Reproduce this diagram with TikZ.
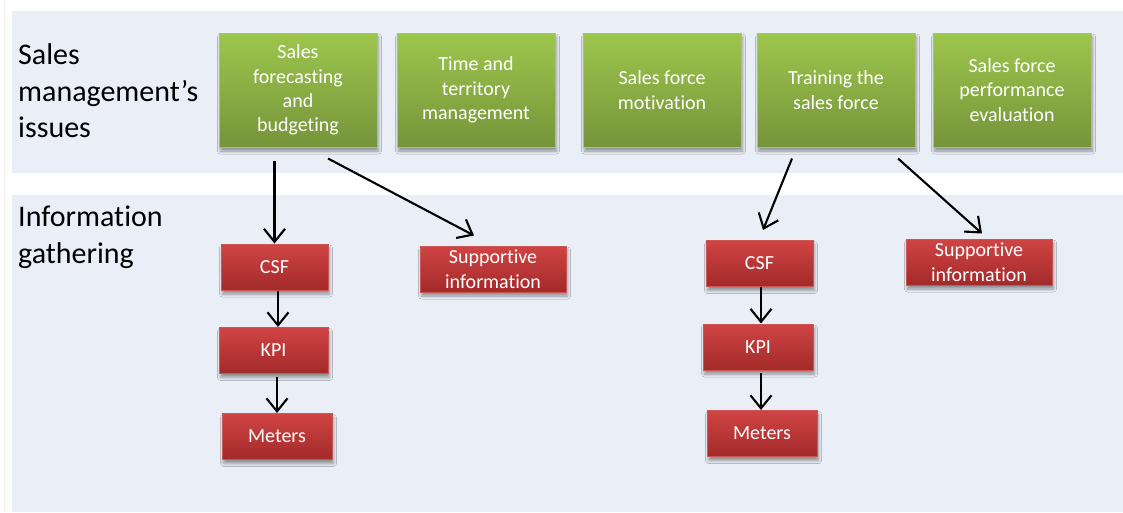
\documentclass[tikz,border=0pt]{standalone}
\usepackage{fontspec}
\setmainfont{Carlito}[Ligatures={NoCommon}]
\usetikzlibrary{arrows.meta,shadows.blur}

\definecolor{bandfill}{HTML}{EAEFF7}
\definecolor{greentop}{HTML}{9DC64D}
\definecolor{greenbot}{HTML}{76943A}
\definecolor{greenedge}{HTML}{A6C766}
\definecolor{redtop}{HTML}{D04444}
\definecolor{redbot}{HTML}{A32A2A}
\definecolor{rededge}{HTML}{CB5753}
\definecolor{edgeline}{HTML}{EEEEEE}

\tikzset{
  band/.style={fill=bandfill, draw=none},
  issuebox/.style={draw=greenedge, line width=1pt, top color=greentop, bottom color=greenbot,
    minimum width=158pt, minimum height=114pt, inner sep=2pt, align=center, text=white,
    font=\fontsize{20}{24.4}\selectfont,
    blur shadow={shadow xshift=1.5pt, shadow yshift=-4pt, shadow blur radius=3pt,
      shadow blur steps=6, shadow opacity=40}},
  infobox/.style={draw=rededge, line width=1pt, top color=redtop, bottom color=redbot,
    minimum height=46pt, inner sep=2pt, align=center, text=white,
    font=\fontsize{20}{24.4}\selectfont,
    blur shadow={shadow xshift=1.5pt, shadow yshift=-4pt, shadow blur radius=3pt,
      shadow blur steps=6, shadow opacity=40}},
  rowlabel/.style={anchor=west, inner sep=0pt, align=left,
    font=\fontsize{30}{36.6}\selectfont},
  arr/.style={-{Straight Barb[length=13pt,width=21pt]}, line width=2.1pt, black},
}

\begin{document}
\begin{tikzpicture}[x=1pt, y=-1pt]
  % canvas and the two horizontal bands
  \fill[white] (0,0) rectangle (1123,512);
  \useasboundingbox (0,0) rectangle (1123,512);
  \draw[edgeline, line width=1.5pt] (4.5,0) -- (4.5,512);
  \fill[band] (12,11) rectangle (1123,173);
  \fill[band] (12,195) rectangle (1123,512);

  % row labels
  \node[rowlabel] (lblA) at (18,91) {Sales\\management’s\\issues};
  \node[rowlabel] (lblB) at (18,237) {Information\\gathering};

  % sales management issues
  \node[issuebox] (g1) at (298,90) {Sales\\forecasting\\and\\budgeting};
  \node[issuebox] (g2) at (476,90) {Time and\\territory\\management};
  \node[issuebox] (g3) at (662,90) {Sales force\\motivation};
  \node[issuebox] (g4) at (836,90) {Training the\\sales force};
  \node[issuebox] (g5) at (1012,90) {Sales force\\performance\\evaluation};

  % information gathering, first column
  \node[infobox, minimum width=107pt] (c1) at (274.5,267) {CSF};
  \node[infobox, minimum width=109pt] (k1) at (273.5,350.5) {KPI};
  \node[infobox, minimum width=110pt] (m1) at (277,436.5) {Meters};
  \node[infobox, minimum width=146pt] (s1) at (493,269) {Supportive\\information};

  % information gathering, second column
  \node[infobox, minimum width=107pt] (c2) at (759.5,263.5) {CSF};
  \node[infobox, minimum width=110pt] (k2) at (758,347) {KPI};
  \node[infobox, minimum width=110pt] (m2) at (762,433.5) {Meters};
  \node[infobox, minimum width=146pt] (s2) at (979,262) {Supportive\\information};

  % connectors
  \draw[arr, shorten <=13pt] (c1.north |- g1.south) -- (c1.north);
  \draw[arr] ([xshift=30pt,yshift=-11pt]g1.south) -- ([xshift=-19pt,yshift=10pt]s1.north);
  \draw[arr] ([xshift=3.5pt]c1.south) -- ([xshift=3.5pt]c1.south |- k1.north);
  \draw[arr, shorten <=3pt] (m1.north |- k1.south) -- (m1.north);

  \draw[arr] ([xshift=-44pt,yshift=-11pt]g4.south) -- ([xshift=3.5pt,yshift=10pt]c2.north);
  \draw[arr] ([xshift=62pt,yshift=-11pt]g4.south) -- ([xshift=3pt,yshift=5pt]s2.north);
  \draw[arr] ([xshift=1.5pt]c2.south) -- ([xshift=1.5pt]c2.south |- k2.north);
  \draw[arr, shorten <=2pt] ([xshift=-1pt]m2.north |- k2.south) -- ([xshift=-1pt]m2.north);
\end{tikzpicture}
\end{document}
